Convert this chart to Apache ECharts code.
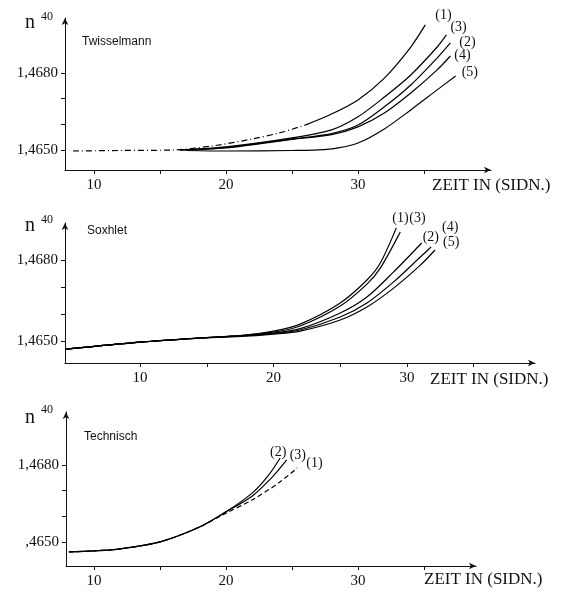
<!DOCTYPE html>
<html>
<head>
<meta charset="utf-8">
<script src="https://cdn.jsdelivr.net/npm/echarts@6.0.0/dist/echarts.min.js"></script>
<style>
  html, body { margin: 0; padding: 0; background: #fff; }
  #chart { width: 567px; height: 593px; }
</style>
</head>
<body>
<div id="chart"></div>
<script>
// tick values (same for all three panels)
const yLabelTicks = [1.465, 1.468];
const yTicks = [1.465, 1.466, 1.467, 1.468];
const xLabelTicks = [10, 20, 30];
const xTicks = [10, 15, 20, 25, 30, 35];

const curveNames = ["(1)", "(2)", "(3)", "(4)", "(5)"];

// Twisselmann: [zeit, n40]; curve 1 is dash-dotted up to 26 min
const twiss1 = [[8.4, 1.46496], [12, 1.46498], [16, 1.4650], [19, 1.46516], [22, 1.46543], [24, 1.46566], [26, 1.46597], [28, 1.4664], [30, 1.46695], [32, 1.4678], [34, 1.46901], [35.1, 1.46987]];
const twiss2 = [[16.5, 1.4650], [20, 1.4651], [25, 1.46543], [28, 1.46564], [30, 1.46597], [32, 1.46668], [34, 1.46753], [36, 1.46858], [37, 1.46917]];
const twiss3 = [[16.5, 1.4650], [20, 1.46512], [25, 1.46547], [28, 1.46578], [30, 1.46629], [32, 1.46706], [34, 1.46792], [36, 1.46901], [36.7, 1.46948]];
const twiss4 = [[16.5, 1.4650], [20, 1.46508], [25, 1.46541], [28, 1.4656], [30, 1.4659], [32, 1.46644], [34, 1.46722], [36, 1.46812], [37, 1.46866]];
const twiss5 = [[17, 1.46498], [20, 1.46496], [25, 1.46498], [27, 1.4650], [28.5, 1.46508], [30, 1.46527], [32, 1.46582], [34, 1.46656], [36, 1.46734], [37.4, 1.46788]];

// Soxhlet
const sox1 = [[4.45, 1.4647], [10, 1.46496], [15, 1.46513], [17.5, 1.4652], [20, 1.46537], [22, 1.46563], [25, 1.46641], [27, 1.46726], [28, 1.46789], [29.2, 1.46919]];
const sox2 = [[4.45, 1.4647], [10, 1.46496], [15, 1.46513], [17.5, 1.46519], [20, 1.4653], [22, 1.46546], [25, 1.46604], [27, 1.46663], [29, 1.46756], [31.1, 1.46863]];
const sox3 = [[4.45, 1.4647], [10, 1.46496], [15, 1.46513], [17.5, 1.4652], [20, 1.46533], [22, 1.46556], [25, 1.4663], [27, 1.46711], [28, 1.4677], [29.5, 1.46904]];
const sox4 = [[4.45, 1.4647], [10, 1.46496], [15, 1.46513], [17.5, 1.46519], [20, 1.46528], [22, 1.46541], [25, 1.46589], [27, 1.46641], [29, 1.46719], [31, 1.46811], [31.8, 1.46848]];
const sox5 = [[4.45, 1.4647], [10, 1.46496], [15, 1.46513], [17.5, 1.46517], [20, 1.46526], [22, 1.46537], [25, 1.46578], [27, 1.46626], [29, 1.46696], [31, 1.46781], [32.1, 1.46837]];

// Technisch; curve 1 dashed
const tech1 = [[8.1, 1.46461], [10, 1.46465], [12, 1.46473], [15, 1.4650], [18, 1.46558], [20, 1.46612], [22, 1.46664], [24, 1.4673], [25.4, 1.46788]];
const tech2 = [[8.1, 1.46461], [10, 1.46465], [12, 1.46473], [15, 1.4650], [18, 1.46558], [20, 1.46617], [22, 1.46691], [23.2, 1.46758], [24.1, 1.46827]];
const tech3 = [[8.1, 1.46461], [10, 1.46465], [12, 1.46473], [15, 1.4650], [18, 1.46558], [20, 1.46617], [22, 1.46679], [23.5, 1.46752], [24.6, 1.46819]];

const serif = "'Liberation Serif', 'DejaVu Serif', serif";
const sans = "'Liberation Sans', Arial, sans-serif";
const ink = "#111";

function xAxisFor(grid, min, max) {
  return {
    type: "value", gridIndex: grid, min: min, max: max,
    splitLine: { show: false },
    axisLine: { lineStyle: { color: ink, width: 1 }, symbol: ["none", "arrow"], symbolSize: [5, 7] },
    axisTick: { customValues: xTicks, length: 4, lineStyle: { color: ink } },
    axisLabel: { customValues: xLabelTicks, margin: 8, color: ink, fontSize: 15, fontFamily: serif },
  };
}
function yAxisFor(grid, min, max, fmt) {
  return {
    type: "value", gridIndex: grid, min: min, max: max,
    splitLine: { show: false },
    axisLine: { lineStyle: { color: ink, width: 1 }, symbol: ["none", "arrow"], symbolSize: [5, 7] },
    axisTick: { customValues: yTicks, length: 4, lineStyle: { color: ink } },
    axisLabel: { customValues: yLabelTicks, margin: 7, color: ink, fontSize: 15, fontFamily: serif, formatter: fmt },
  };
}
const commaFmt = (v) => v.toFixed(4).replace(".", ",");
const cutFmt = (v) => { const s = commaFmt(v); return v < 1.466 ? s.slice(1) : s; };

function curve(grid, data, name, off, dash) {
  return {
    type: "line", xAxisIndex: grid, yAxisIndex: grid,
    data: data, smooth: 0.3, showSymbol: false,
    lineStyle: { color: "#000", width: 1.2, type: dash || "solid" },
    endLabel: { show: !!name, formatter: name, offset: off, color: ink, fontSize: 14, fontFamily: serif },
  };
}

const chart = echarts.init(document.getElementById("chart"));
chart.setOption({
  animation: false,
  grid: [
    { left: 65, top: 18, width: 426, height: 152 },
    { left: 65, top: 223, width: 470, height: 140 },
    { left: 66, top: 412, width: 410, height: 154 },
  ],
  xAxis: [xAxisFor(0, 7.8, 40.08), xAxisFor(1, 4.38, 39.59), xAxisFor(2, 7.88, 38.94)],
  yAxis: [yAxisFor(0, 1.46422, 1.47014, commaFmt), yAxisFor(1, 1.46419, 1.46937, commaFmt), yAxisFor(2, 1.46406, 1.47006, cutFmt)],
  title: [
    { text: "Twisselmann", left: 82, top: 36, textStyle: { fontSize: 12, fontWeight: "normal", color: ink, fontFamily: sans } },
    { text: "Soxhlet", left: 87, top: 225, textStyle: { fontSize: 12, fontWeight: "normal", color: ink, fontFamily: sans } },
    { text: "Technisch", left: 84, top: 431, textStyle: { fontSize: 12, fontWeight: "normal", color: ink, fontFamily: sans } },
    { text: "n", left: 25, top: 13, textStyle: { fontSize: 20, fontWeight: "normal", color: ink, fontFamily: serif } },
    { text: "40", left: 41, top: 11, textStyle: { fontSize: 12, fontWeight: "normal", color: ink, fontFamily: serif } },
    { text: "n", left: 25, top: 216, textStyle: { fontSize: 20, fontWeight: "normal", color: ink, fontFamily: serif } },
    { text: "40", left: 41, top: 214, textStyle: { fontSize: 12, fontWeight: "normal", color: ink, fontFamily: serif } },
    { text: "n", left: 25, top: 408, textStyle: { fontSize: 20, fontWeight: "normal", color: ink, fontFamily: serif } },
    { text: "40", left: 41, top: 404, textStyle: { fontSize: 12, fontWeight: "normal", color: ink, fontFamily: serif } },
    { text: "ZEIT IN (SIDN.)", left: 432, top: 177, textStyle: { fontSize: 17, fontWeight: "normal", color: ink, fontFamily: serif } },
    { text: "ZEIT IN (SIDN.)", left: 430, top: 371, textStyle: { fontSize: 17, fontWeight: "normal", color: ink, fontFamily: serif } },
    { text: "ZEIT IN (SIDN.)", left: 424, top: 571, textStyle: { fontSize: 17, fontWeight: "normal", color: ink, fontFamily: serif } },
  ].map((t) => Object.assign({ padding: 0 }, t)),
  series: [
    curve(0, twiss1.slice(0, 7), null, [0, 0], [6, 3, 1, 3]),
    curve(0, twiss1.slice(6), curveNames[0], [2, -10]),
    curve(0, twiss3, curveNames[2], [-4, -8]),
    curve(0, twiss2, curveNames[1], [1, -1]),
    curve(0, twiss4, curveNames[3], [-4, -1]),
    curve(0, twiss5, curveNames[4], [-2, -4]),
    curve(1, sox1, curveNames[0], [-12, -10]),
    curve(1, sox3, curveNames[2], [1, -14]),
    curve(1, sox2, curveNames[1], [-7, -6]),
    curve(1, sox4, curveNames[3], [3, -20]),
    curve(1, sox5, curveNames[4], [0, -8]),
    curve(2, tech2, curveNames[1], [-18, -6]),
    curve(2, tech3, curveNames[2], [-5, -5]),
    curve(2, tech1, curveNames[0], [1, -5], [5, 3]),
  ],
});
</script>
</body>
</html>
